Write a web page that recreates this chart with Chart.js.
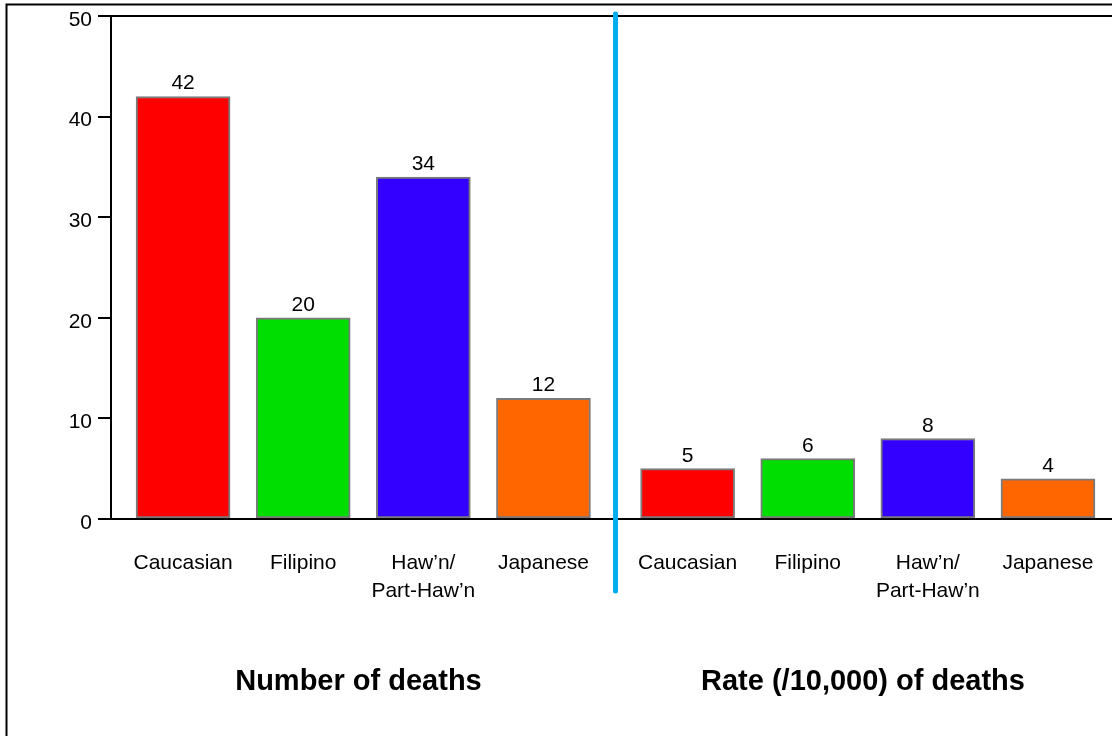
<!DOCTYPE html>
<html>
<head>
<meta charset="utf-8">
<script src="https://cdn.jsdelivr.net/npm/chart.js@4/dist/chart.umd.min.js"></script>
<style>
  html, body { margin: 0; padding: 0; background: #ffffff; }
  canvas { display: block; }
</style>
</head>
<body>
<canvas id="chart" width="1112" height="736"></canvas>
<script>
// Ethnic groups, shown once per panel
const categories = ['Caucasian', 'Filipino', 'Haw\u2019n/\nPart-Haw\u2019n', 'Japanese'];
// Left panel: number of deaths
const deathCounts = [42, 20, 34, 12];
// Right panel: rate of deaths per 10,000
const deathRates = [5, 6, 8, 4];
const barColors = ['#ff0000', '#00dd00', '#3300ff', '#ff6600'];
const yTicks = [0, 10, 20, 30, 40, 50];
const panelTitles = ['Number of deaths', 'Rate (/10,000) of deaths'];

// Layout: the second panel sits after a slightly wider gap than the bar spacing
const PANEL_SHIFT = 4.2;
const DIVIDER_AT = (categories.length - 1 + PANEL_SHIFT) / 2;
const CAPTION_AT = [1.46, 1.46 + PANEL_SHIFT];
const FONT = '"Liberation Sans", Arial, Helvetica, sans-serif';

const countPoints = deathCounts.map((v, i) => ({ x: i, y: v }));
const ratePoints = deathRates.map((v, i) => ({ x: i + PANEL_SHIFT, y: v }));
const tickPositions = countPoints.concat(ratePoints).map(p => p.x);
const tickLabels = categories.concat(categories);

const decor = {
  id: 'decor',
  beforeDraw(chart) {
    const ctx = chart.ctx;
    ctx.save();
    ctx.fillStyle = '#ffffff';
    ctx.fillRect(0, 0, chart.width, chart.height);
    // outer frame
    ctx.strokeStyle = '#000000';
    ctx.lineWidth = 2;
    ctx.strokeRect(6.5, 4.5, chart.width + 20, chart.height + 20);
    ctx.restore();
  },
  afterDatasetsDraw(chart) {
    const ctx = chart.ctx;
    const xs = chart.scales.x;
    const area = chart.chartArea;
    ctx.save();
    // value labels above bars
    ctx.fillStyle = '#000000';
    ctx.font = '21px ' + FONT;
    ctx.textAlign = 'center';
    ctx.textBaseline = 'alphabetic';
    chart.data.datasets.forEach((ds, di) => {
      chart.getDatasetMeta(di).data.forEach((bar, i) => {
        ctx.fillText(String(ds.data[i].y), bar.x, bar.y - 7);
      });
    });
    // divider between the two panels
    const dx = xs.getPixelForValue(DIVIDER_AT);
    ctx.strokeStyle = '#00aeef';
    ctx.lineWidth = 5;
    ctx.lineCap = 'round';
    ctx.beginPath();
    ctx.moveTo(dx, area.top - 2);
    ctx.lineTo(dx, 591);
    ctx.stroke();
    // panel captions
    ctx.font = 'bold 29px ' + FONT;
    ctx.textBaseline = 'middle';
    panelTitles.forEach((t, i) => {
      ctx.fillText(t, xs.getPixelForValue(CAPTION_AT[i]), 682);
    });
    ctx.restore();
  }
};

new Chart(document.getElementById('chart'), {
  type: 'bar',
  data: {
    datasets: [
      {
        label: panelTitles[0],
        data: countPoints,
        backgroundColor: barColors,
        borderColor: '#7a7a7a',
        borderWidth: 2,
        borderSkipped: false,
        barThickness: 94,
        grouped: false
      },
      {
        label: panelTitles[1],
        data: ratePoints,
        backgroundColor: barColors,
        borderColor: '#7a7a7a',
        borderWidth: 2,
        borderSkipped: false,
        barThickness: 94,
        grouped: false
      }
    ]
  },
  options: {
    responsive: false,
    animation: false,
    layout: { padding: { top: 16, left: 0, right: 0, bottom: 0 } },
    plugins: {
      legend: { display: false },
      tooltip: { enabled: false },
      title: { display: false }
    },
    scales: {
      x: {
        type: 'linear',
        offset: false,
        min: -0.6,
        max: 7.733,
        afterBuildTicks: s => { s.ticks = tickPositions.map(v => ({ value: v })); },
        afterFit: s => { s.height = 217; s.paddingLeft = 0; s.paddingRight = 0; },
        ticks: {
          autoSkip: false,
          maxRotation: 0,
          padding: 22,
          color: '#000000',
          font: { family: FONT, size: 21, lineHeight: 1.33 },
          callback: (v, i) => tickLabels[i].split('\n')
        },
        grid: { display: false },
        border: { display: false }
      },
      y: {
        min: yTicks[0],
        max: yTicks[yTicks.length - 1],
        afterBuildTicks: s => { s.ticks = yTicks.map(v => ({ value: v })); },
        afterFit: s => { s.width = 111; s.paddingTop = 0; s.paddingBottom = 0; },
        ticks: {
          padding: 6,
          labelOffset: 4,
          color: '#000000',
          font: { family: FONT, size: 21 }
        },
        grid: {
          color: c => (c.tick && (c.tick.value === yTicks[0] || c.tick.value === yTicks[yTicks.length - 1])) ? '#000000' : 'rgba(0,0,0,0)',
          lineWidth: 2,
          tickColor: '#000000',
          tickWidth: 2,
          tickLength: 13
        },
        border: { display: true, color: '#000000', width: 2 }
      }
    }
  },
  plugins: [decor]
});
</script>
</body>
</html>
